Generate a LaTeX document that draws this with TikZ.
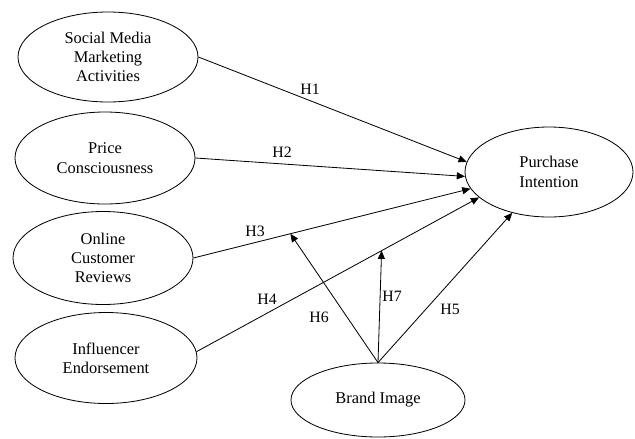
\documentclass[tikz,border=0pt]{standalone}
\usepackage{fontspec}
\setmainfont{Liberation Serif}
\usetikzlibrary{shapes.geometric,arrows.meta}

\tikzset{
  construct/.style={ellipse, draw, line width=0.7pt, inner sep=0pt, align=center,
    font=\fontsize{14}{16.5}\selectfont},
  link/.style={draw, line width=0.7pt, -{Triangle[length=7pt,width=6pt]}},
  hlabel/.style={inner sep=0pt, font=\fontsize{13.5}{16}\selectfont}
}

\begin{document}
\begin{tikzpicture}[x=0.03cm, y=-0.03cm]
  \useasboundingbox (0,0) rectangle (635,438);

  % constructs
  \node[construct, minimum width=5.4cm, minimum height=2.7cm] (smma) at (108,57)
    {Social Media\\Marketing\\Activities};
  \node[construct, minimum width=5.4cm, minimum height=2.76cm] (price) at (105,158)
    {Price\\Consciousness};
  \node[construct, minimum width=5.4cm, minimum height=2.79cm] (online) at (103,258)
    {Online\\Customer\\Reviews};
  \node[construct, minimum width=5.46cm, minimum height=2.73cm] (infl) at (106,358)
    {Influencer\\Endorsement};
  \node[construct, minimum width=5.22cm, minimum height=2.22cm] (brand) at (378,400)
    {Brand Image};
  \node[construct, minimum width=5.04cm, minimum height=2.7cm] (pi) at (549,172)
    {Purchase\\Intention};

  % direct paths
  \draw[link] (smma.east) -- (pi.173);
  \draw[link] (price.east) -- (pi.183);
  \draw[link] (online.east) -- coordinate[pos=0.35] (m3) (pi.192);
  \draw[link] (infl.4) -- coordinate[pos=0.655] (m4) (pi.200);
  \draw[link] (brand.north) -- (pi.228);

  % moderation
  \draw[link] (brand.north) -- (m3);
  \draw[link] (brand.north) -- (m4);

  % labels
  \node[hlabel] (lh1) at (310,89) {H1};
  \node[hlabel] (lh2) at (282,152) {H2};
  \node[hlabel] (lh3) at (255,231) {H3};
  \node[hlabel] (lh4) at (267,299) {H4};
  \node[hlabel] (lh5) at (450,309) {H5};
  \node[hlabel] (lh6) at (319,317) {H6};
  \node[hlabel] (lh7) at (392,296) {H7};
\end{tikzpicture}
\end{document}
